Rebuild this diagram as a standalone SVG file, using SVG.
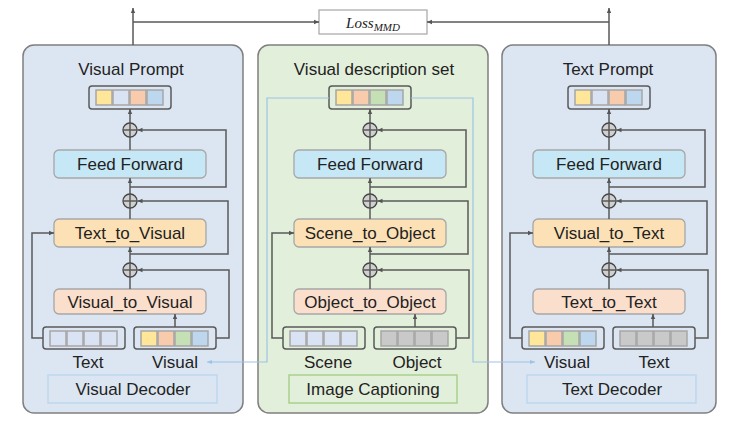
<svg xmlns="http://www.w3.org/2000/svg" width="750" height="429" viewBox="0 0 750 429">
<defs>
<marker id="ah" markerWidth="6" markerHeight="6" refX="5" refY="3" orient="auto" markerUnits="userSpaceOnUse"><path d="M0,0.8 L5,3 L0,5.2 Z" fill="#555"/></marker>
<marker id="ahb" markerWidth="6" markerHeight="6" refX="5" refY="3" orient="auto" markerUnits="userSpaceOnUse"><path d="M0,1 L5,3 L0,5 Z" fill="#9dc3e6"/></marker>
<style>
text{font-family:"Liberation Sans",Arial,sans-serif;fill:#222;}
.t{font-size:17px;text-anchor:middle;}
.pb{fill:#dce6f2;stroke:#7f7f7f;stroke-width:1.5;}
.pg{fill:#e2efda;stroke:#7f7f7f;stroke-width:1.5;}
.ff{fill:#c6e8f6;stroke:#a6a6a6;stroke-width:1.3;}
.tv{fill:#fde1b6;stroke:#a6a6a6;stroke-width:1.3;}
.vv{fill:#fbdfcd;stroke:#a6a6a6;stroke-width:1.3;}
.tok{fill:none;stroke:#595959;stroke-width:1.5;}
.sq{stroke:#a6a6a6;stroke-width:1.5;}
.y{fill:#ffe699;}.l{fill:#dae3f3;}.p{fill:#f8cbad;}.b{fill:#bdd7ee;}.g{fill:#c5e0b4;}.gr{fill:#c9c9c9;}
.ln{fill:none;stroke:#595959;stroke-width:1.5;}
.bl{fill:none;stroke:#9dc3e6;stroke-width:1.2;}
.plus{fill:#d0d0d0;stroke:#444;stroke-width:1.3;}
.lblb{fill:none;stroke:#bdd7ee;stroke-width:1.5;}
.lblg{fill:none;stroke:#a9d18e;stroke-width:1.5;}
</style>
</defs>

<!-- Panels -->
<g id="visual-decoder-panel">
<rect class="pb" x="23" y="45" width="220" height="368" rx="11"/>
<text class="t" x="131" y="75">Visual Prompt</text>
<rect class="tok" x="89" y="86" width="82" height="23" rx="3"/>
<rect class="sq y" x="96" y="90" width="16" height="15"/><rect class="sq l" x="113" y="90" width="16" height="15"/><rect class="sq p" x="130" y="90" width="16" height="15"/><rect class="sq b" x="147" y="90" width="16" height="15"/>
<rect class="ff" x="54" y="150" width="152" height="28" rx="5"/><text class="t" x="130" y="170">Feed Forward</text>
<rect class="tv" x="54" y="219" width="152" height="28" rx="5"/><text class="t" x="130" y="239">Text_to_Visual</text>
<rect class="vv" x="54" y="289" width="152" height="25" rx="5"/><text class="t" x="130" y="308">Visual_to_Visual</text>
<rect class="tok" x="43" y="327" width="82" height="22" rx="3"/>
<rect class="sq l" x="50" y="331" width="16" height="15"/><rect class="sq l" x="67" y="331" width="16" height="15"/><rect class="sq l" x="84" y="331" width="16" height="15"/><rect class="sq l" x="101" y="331" width="16" height="15"/>
<rect class="tok" x="134" y="327" width="82" height="22" rx="3"/>
<rect class="sq y" x="141" y="331" width="16" height="15"/><rect class="sq p" x="158" y="331" width="16" height="15"/><rect class="sq g" x="175" y="331" width="16" height="15"/><rect class="sq b" x="192" y="331" width="16" height="15"/>
<text class="t" x="88" y="368">Text</text><text class="t" x="175" y="368">Visual</text>
<rect class="lblb" x="48" y="375" width="169" height="28"/><text class="t" x="133" y="395">Visual Decoder</text>
</g>

<g id="image-captioning-panel">
<rect class="pg" x="258" y="45" width="230" height="368" rx="11"/>
<text class="t" x="374" y="75">Visual description set</text>
<rect class="tok" x="329" y="86" width="82" height="23" rx="3"/>
<rect class="sq y" x="336" y="90" width="16" height="15"/><rect class="sq p" x="353" y="90" width="16" height="15"/><rect class="sq g" x="370" y="90" width="16" height="15"/><rect class="sq b" x="387" y="90" width="16" height="15"/>
<rect class="ff" x="294" y="150" width="152" height="28" rx="5"/><text class="t" x="370" y="170">Feed Forward</text>
<rect class="tv" x="294" y="219" width="152" height="28" rx="5"/><text class="t" x="370" y="239">Scene_to_Object</text>
<rect class="vv" x="294" y="289" width="152" height="25" rx="5"/><text class="t" x="370" y="308">Object_to_Object</text>
<rect class="tok" x="283" y="327" width="82" height="22" rx="3"/>
<rect class="sq l" x="290" y="331" width="16" height="15"/><rect class="sq l" x="307" y="331" width="16" height="15"/><rect class="sq l" x="324" y="331" width="16" height="15"/><rect class="sq l" x="341" y="331" width="16" height="15"/>
<rect class="tok" x="374" y="327" width="82" height="22" rx="3"/>
<rect class="sq gr" x="381" y="331" width="16" height="15"/><rect class="sq gr" x="398" y="331" width="16" height="15"/><rect class="sq gr" x="415" y="331" width="16" height="15"/><rect class="sq gr" x="432" y="331" width="16" height="15"/>
<text class="t" x="328" y="368">Scene</text><text class="t" x="417" y="368">Object</text>
<rect class="lblg" x="289" y="375" width="168" height="28"/><text class="t" x="373" y="395">Image Captioning</text>
</g>

<g id="text-decoder-panel">
<rect class="pb" x="502" y="45" width="214" height="368" rx="11"/>
<text class="t" x="608" y="75">Text Prompt</text>
<rect class="tok" x="568" y="86" width="82" height="23" rx="3"/>
<rect class="sq y" x="575" y="90" width="16" height="15"/><rect class="sq l" x="592" y="90" width="16" height="15"/><rect class="sq p" x="609" y="90" width="16" height="15"/><rect class="sq b" x="626" y="90" width="16" height="15"/>
<rect class="ff" x="533" y="150" width="152" height="28" rx="5"/><text class="t" x="609" y="170">Feed Forward</text>
<rect class="tv" x="533" y="219" width="152" height="28" rx="5"/><text class="t" x="609" y="239">Visual_to_Text</text>
<rect class="vv" x="533" y="289" width="152" height="25" rx="5"/><text class="t" x="609" y="308">Text_to_Text</text>
<rect class="tok" x="522" y="327" width="82" height="22" rx="3"/>
<rect class="sq y" x="529" y="331" width="16" height="15"/><rect class="sq p" x="546" y="331" width="16" height="15"/><rect class="sq g" x="563" y="331" width="16" height="15"/><rect class="sq b" x="580" y="331" width="16" height="15"/>
<rect class="tok" x="613" y="327" width="82" height="22" rx="3"/>
<rect class="sq gr" x="620" y="331" width="16" height="15"/><rect class="sq gr" x="637" y="331" width="16" height="15"/><rect class="sq gr" x="654" y="331" width="16" height="15"/><rect class="sq gr" x="671" y="331" width="16" height="15"/>
<text class="t" x="567" y="368">Visual</text><text class="t" x="654" y="368">Text</text>
<rect class="lblb" x="527" y="375" width="169" height="28"/><text class="t" x="612" y="395">Text Decoder</text>
</g>

<g id="loss-mmd">
<rect x="319" y="10" width="108" height="24" fill="#fff" stroke="#a6a6a6" stroke-width="1.2"/>
<text x="373" y="28" text-anchor="middle" style="font-family:'Liberation Serif',serif;font-style:italic;font-size:15px;">Loss<tspan dy="3" style="font-size:11px;">MMD</tspan></text>
</g>

<!-- Connectors -->
<g id="connectors">
<path class="ln" d="M133,45 V8" marker-end="url(#ah)"/>
<path class="ln" d="M133,22 H319" marker-end="url(#ah)"/>
<path class="ln" d="M609,45 V8" marker-end="url(#ah)"/>
<path class="ln" d="M609,22 H427" marker-end="url(#ah)"/>

<path class="bl" d="M329,98 H267 V362 H207" marker-end="url(#ahb)"/>
<path class="bl" d="M411,98 H473 V362 H535" marker-end="url(#ahb)"/>

<!-- left panel flow cx=130 -->
<path class="ln" d="M130,289 V277"/>
<path class="ln" d="M130,263 V247" marker-end="url(#ah)"/>
<path class="ln" d="M130,219 V208"/>
<path class="ln" d="M130,194 V178" marker-end="url(#ah)"/>
<path class="ln" d="M130,150 V137"/>
<path class="ln" d="M130,123 V109" marker-end="url(#ah)"/>
<path class="ln" d="M130,187 H226 V130 H137.5" marker-end="url(#ah)"/>
<path class="ln" d="M130,254 H228 V201 H137.5" marker-end="url(#ah)"/>
<path class="ln" d="M216,338 H229 V270 H137.5" marker-end="url(#ah)"/>
<path class="ln" d="M43,338 H32 V233 H54" marker-end="url(#ah)"/>
<path class="ln" d="M175,327 V314" marker-end="url(#ah)"/>

<!-- middle panel flow cx=370 -->
<path class="ln" d="M370,289 V277"/>
<path class="ln" d="M370,263 V247" marker-end="url(#ah)"/>
<path class="ln" d="M370,219 V208"/>
<path class="ln" d="M370,194 V178" marker-end="url(#ah)"/>
<path class="ln" d="M370,150 V137"/>
<path class="ln" d="M370,123 V109" marker-end="url(#ah)"/>
<path class="ln" d="M370,187 H466 V130 H377.5" marker-end="url(#ah)"/>
<path class="ln" d="M370,254 H468 V201 H377.5" marker-end="url(#ah)"/>
<path class="ln" d="M456,338 H469 V270 H377.5" marker-end="url(#ah)"/>
<path class="ln" d="M283,338 H272 V233 H294" marker-end="url(#ah)"/>
<path class="ln" d="M415,327 V314" marker-end="url(#ah)"/>

<!-- right panel flow cx=609 -->
<path class="ln" d="M609,289 V277"/>
<path class="ln" d="M609,263 V247" marker-end="url(#ah)"/>
<path class="ln" d="M609,219 V208"/>
<path class="ln" d="M609,194 V178" marker-end="url(#ah)"/>
<path class="ln" d="M609,150 V137"/>
<path class="ln" d="M609,123 V109" marker-end="url(#ah)"/>
<path class="ln" d="M609,187 H705 V130 H616.5" marker-end="url(#ah)"/>
<path class="ln" d="M609,254 H707 V201 H616.5" marker-end="url(#ah)"/>
<path class="ln" d="M695,338 H708 V270 H616.5" marker-end="url(#ah)"/>
<path class="ln" d="M522,338 H510 V233 H533" marker-end="url(#ah)"/>
<path class="ln" d="M653,327 V314" marker-end="url(#ah)"/>
</g>

<!-- plus nodes -->
<g id="add-nodes">
<g id="add-l1"><circle class="plus" cx="130" cy="130" r="7"/><path class="ln" d="M123,130 H137 M130,123 V137"/></g>
<g id="add-l2"><circle class="plus" cx="130" cy="201" r="7"/><path class="ln" d="M123,201 H137 M130,194 V208"/></g>
<g id="add-l3"><circle class="plus" cx="130" cy="270" r="7"/><path class="ln" d="M123,270 H137 M130,263 V277"/></g>
<g id="add-m1"><circle class="plus" cx="370" cy="130" r="7"/><path class="ln" d="M363,130 H377 M370,123 V137"/></g>
<g id="add-m2"><circle class="plus" cx="370" cy="201" r="7"/><path class="ln" d="M363,201 H377 M370,194 V208"/></g>
<g id="add-m3"><circle class="plus" cx="370" cy="270" r="7"/><path class="ln" d="M363,270 H377 M370,263 V277"/></g>
<g id="add-r1"><circle class="plus" cx="609" cy="130" r="7"/><path class="ln" d="M602,130 H616 M609,123 V137"/></g>
<g id="add-r2"><circle class="plus" cx="609" cy="201" r="7"/><path class="ln" d="M602,201 H616 M609,194 V208"/></g>
<g id="add-r3"><circle class="plus" cx="609" cy="270" r="7"/><path class="ln" d="M602,270 H616 M609,263 V277"/></g>
</g>
</svg>
